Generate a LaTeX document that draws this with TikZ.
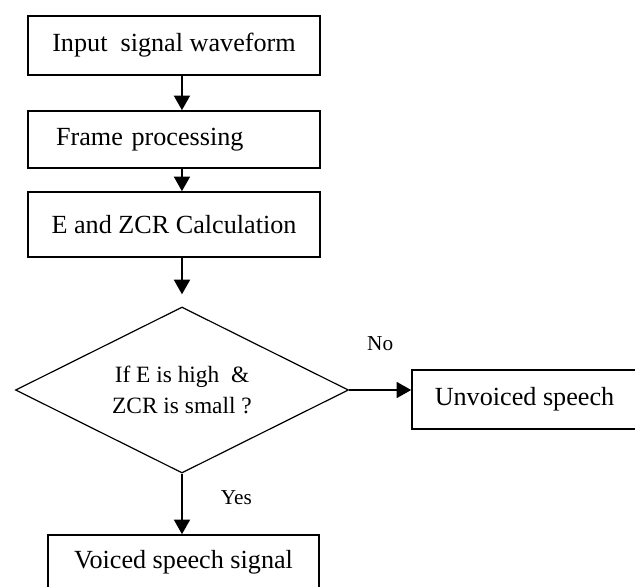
\documentclass[tikz,border=0pt]{standalone}
\usepackage{fontspec}
\setmainfont{Liberation Serif}
\usetikzlibrary{arrows.meta,shapes.geometric}

\begin{document}
\begin{tikzpicture}[
  stepbox/.style={draw, line width=1.2pt, minimum width=7.726cm, minimum height=1.561cm,
    inner sep=0pt, font=\fontsize{19.7}{23}\selectfont},
  decision/.style={draw, diamond, line width=0.9pt, aspect=2, inner sep=0pt,
    minimum width=8.811cm, minimum height=4.392cm, align=center,
    font=\fontsize{17.6}{23.2}\selectfont},
  arr/.style={line width=1.5pt, -{Triangle[length=11pt,width=12pt]}},
  lab/.style={font=\fontsize{16}{19}\selectfont}]
\useasboundingbox (0,0) rectangle (16.801,-15.505);

\draw (4.604,-1.204)  node (inp)   [stepbox] {Input~ signal waveform};
\draw (4.604,-3.691)  node (frame) [stepbox, minimum height=1.508cm, text width=6.244cm,
  align=left, inner xsep=0.741cm] {Frame processing};
\draw (4.604,-5.940)  node (ecalc) [stepbox, minimum height=1.720cm] {E and ZCR Calculation};
\draw (4.815,-10.319) node (dec)   [decision] {If E is high~ \&\\ZCR is small ?};
\draw (13.957,-10.570) node (unv)  [stepbox, minimum width=6.112cm] {\hspace*{-0.16cm}Unvoiced speech};
\draw (4.855,-14.883) node (voi)   [stepbox, minimum width=7.170cm, minimum height=1.455cm]
  {Voiced speech signal};

\draw[arr] ([xshift=0.21cm]inp.south) -- ([xshift=0.21cm]frame.north);
\draw[arr] ([xshift=0.21cm]frame.south) -- ([xshift=0.21cm]ecalc.north);
\draw[arr] (ecalc.south -| dec.north) -- ([yshift=0.32cm]dec.north);
\draw[arr] (dec.east) -- node[lab, yshift=1.23cm] (no) {No} (dec.east -| unv.west);
\draw[arr] (dec.south) -- node[lab, xshift=1.44cm, yshift=0.16cm] (yes) {Yes} (dec.south |- voi.north);
\end{tikzpicture}
\end{document}
